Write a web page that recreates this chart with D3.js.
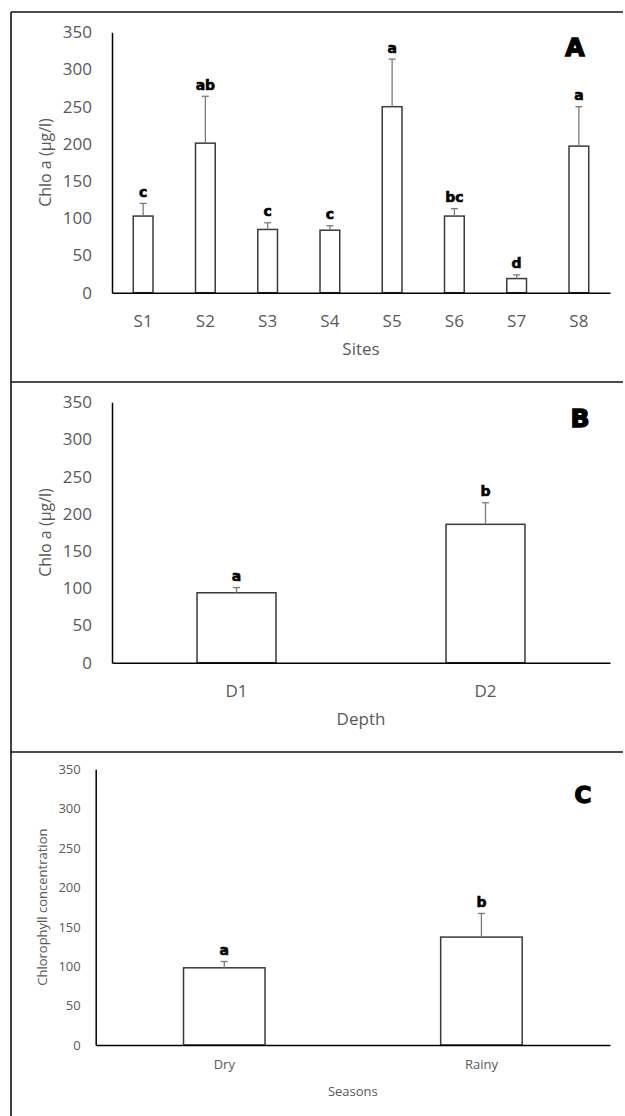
<!DOCTYPE html>
<html>
<head>
<meta charset="utf-8">
<script src="https://cdn.jsdelivr.net/npm/d3@7/dist/d3.min.js"></script>
<style>
  body { margin: 0; background: #fff; }
  svg { display: block; }
</style>
</head>
<body>
<svg id="chart" width="625" height="1116"></svg>
<script>
// ---- Data ----
const yTicks = [0, 50, 100, 150, 200, 250, 300, 350];

const sites = ["S1", "S2", "S3", "S4", "S5", "S6", "S7", "S8"];
const siteMeans = [103, 201, 85, 84, 250, 103, 19, 197];
const siteErr = [17, 63, 9, 6, 64, 10, 5, 53];
const siteLetters = ["c", "ab", "c", "c", "a", "bc", "d", "a"];

const depths = ["D1", "D2"];
const depthMeans = [94, 186];
const depthErr = [7, 29];
const depthLetters = ["a", "b"];

const seasons = ["Dry", "Rainy"];
const seasonMeans = [98, 137];
const seasonErr = [8, 30];
const seasonLetters = ["a", "b"];

// ---- Drawing ----
const svg = d3.select("#chart");
const GRAY = "#595959";

// frame lines
const frame = svg.append("g").attr("stroke", "#111").attr("stroke-width", 1.6);
frame.append("line").attr("x1", 11).attr("x2", 11).attr("y1", 12).attr("y2", 1116);
[12, 382, 752].forEach(y => {
  frame.append("line").attr("x1", 11).attr("x2", 623).attr("y1", y).attr("y2", y);
});

function panel(cfg) {
  const x = d3.scaleBand().domain(cfg.cats).range([cfg.x0, cfg.x1])
    .paddingInner(0.683).paddingOuter(0.3415);
  const y = d3.scaleLinear().domain([0, 350]).range([cfg.yb, cfg.yt]);
  const g = svg.append("g");

  // y axis
  const ya = g.append("g").attr("transform", `translate(${cfg.x0},0)`)
    .call(d3.axisLeft(y).tickValues(yTicks).tickSize(0).tickPadding(cfg.ytp));
  ya.select(".domain").attr("stroke", "#000").attr("stroke-width", 1.5);
  ya.selectAll("text").attr("fill", GRAY).style("font-family", "Open Sans")
    .style("font-size", cfg.fs + "px");

  // bars
  const data = cfg.cats.map((c, i) => ({ c, m: cfg.means[i], e: cfg.err[i], l: cfg.letters[i] }));
  g.selectAll("rect.bar").data(data).enter().append("rect")
    .attr("x", d => x(d.c)).attr("width", x.bandwidth())
    .attr("y", d => y(d.m)).attr("height", d => y(0) - y(d.m))
    .attr("fill", "#fff").attr("stroke", "#3a3a3a").attr("stroke-width", 1.5);

  // error bars
  const eb = g.append("g").attr("stroke", "#7a7a7a").attr("stroke-width", 1.3);
  eb.selectAll("line.v").data(data).enter().append("line")
    .attr("x1", d => x(d.c) + x.bandwidth() / 2).attr("x2", d => x(d.c) + x.bandwidth() / 2)
    .attr("y1", d => y(d.m)).attr("y2", d => y(d.m + d.e));
  eb.selectAll("line.cap").data(data).enter().append("line")
    .attr("x1", d => x(d.c) + x.bandwidth() / 2 - 3.5).attr("x2", d => x(d.c) + x.bandwidth() / 2 + 3.5)
    .attr("y1", d => y(d.m + d.e)).attr("y2", d => y(d.m + d.e));

  // significance letters
  g.selectAll("text.sig").data(data).enter().append("text")
    .attr("x", d => x(d.c) + x.bandwidth() / 2)
    .attr("y", d => y(d.m + d.e) - 6.5)
    .attr("text-anchor", "middle")
    .style("font-family", "DejaVu Sans").style("font-weight", "bold").style("font-size", "14px")
    .attr("fill", "#000").attr("stroke", "#000").attr("stroke-width", 0.6)
    .text(d => d.l);

  // x axis
  const xa = g.append("g").attr("transform", `translate(0,${cfg.yb})`)
    .call(d3.axisBottom(x).tickSize(0).tickSizeOuter(0).tickPadding(cfg.xtp));
  xa.select(".domain").attr("stroke", "#000").attr("stroke-width", 1.5);
  xa.selectAll("text").attr("fill", GRAY).style("font-family", "Open Sans")
    .style("font-size", cfg.fs + "px");

  // x title
  g.append("text").attr("x", (cfg.x0 + cfg.x1) / 2).attr("y", cfg.xTitleY)
    .attr("text-anchor", "middle").attr("fill", GRAY)
    .style("font-family", "Open Sans").style("font-size", cfg.fs + "px")
    .text(cfg.xTitle);

  // y title
  g.append("text")
    .attr("transform", `translate(${cfg.yTitleX},${(cfg.yt + cfg.yb) / 2}) rotate(-90)`)
    .attr("text-anchor", "middle").attr("dy", "0.35em").attr("fill", GRAY)
    .style("font-family", "Open Sans").style("font-size", cfg.tfs + "px")
    .text(cfg.yTitle);

  // panel letter
  g.append("text").attr("x", cfg.lx).attr("y", cfg.ly)
    .attr("text-anchor", "middle")
    .style("font-family", "DejaVu Sans").style("font-weight", "bold")
    .style("font-size", cfg.lfs + "px")
    .attr("fill", "#000").attr("stroke", "#000").attr("stroke-width", 1.4)
    .text(cfg.letter);
}

panel({
  cats: sites, means: siteMeans, err: siteErr, letters: siteLetters,
  x0: 112, x1: 610, yt: 32.3, yb: 292.7, ytp: 20, xtp: 21.9, fs: 17, tfs: 16,
  xTitle: "Sites", xTitleY: 355, yTitle: "Chlo a (µg/l)", yTitleX: 45,
  letter: "A", lx: 575, ly: 56, lfs: 25
});

panel({
  cats: depths, means: depthMeans, err: depthErr, letters: depthLetters,
  x0: 112, x1: 610, yt: 402.3, yb: 662.7, ytp: 20, xtp: 21.9, fs: 17, tfs: 16,
  xTitle: "Depth", xTitleY: 725, yTitle: "Chlo a (µg/l)", yTitleX: 45,
  letter: "B", lx: 580, ly: 427, lfs: 25
});

panel({
  cats: seasons, means: seasonMeans, err: seasonErr, letters: seasonLetters,
  x0: 95.7, x1: 610, yt: 769.3, yb: 1045, ytp: 15, xtp: 14.5, fs: 13, tfs: 13,
  xTitle: "Seasons", xTitleY: 1096, yTitle: "Chlorophyll concentration", yTitleX: 42.7,
  letter: "C", lx: 583, ly: 803, lfs: 23
});
</script>
</body>
</html>
